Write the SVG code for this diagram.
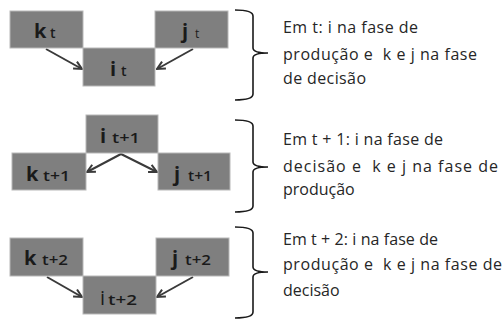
<svg xmlns="http://www.w3.org/2000/svg" width="504" height="321" viewBox="0 0 504 321">
<style>
.box{fill:#7f7f7f;stroke:#b8b8b8;stroke-width:1}
.big{font-family:"Open Sans","Liberation Sans",sans-serif;font-size:20px;font-weight:700;fill:#1a1a1a}
.sub{font-family:"Open Sans","Liberation Sans",sans-serif;font-size:14px;font-weight:600;fill:#1a1a1a}
.desc{font-family:"Open Sans","Liberation Sans",sans-serif;font-size:16px;fill:#262626;white-space:pre}
.arr{stroke:#3a3a3a;stroke-width:2;fill:none;marker-end:url(#ah)}
.br{stroke:#1a1a1a;stroke-width:1.6;fill:none}
</style>
<defs>
<marker id="ah" viewBox="0 0 10 10" refX="9" refY="5" markerWidth="5" markerHeight="5" orient="auto" markerUnits="strokeWidth">
<polyline points="1,1 9,5 1,9" fill="none" stroke="#3a3a3a" stroke-width="2"/>
</marker>
</defs>

<g id="connectors">
<line class="arr" x1="46" y1="49" x2="82" y2="69"/>
<line class="arr" x1="193" y1="49" x2="157" y2="69"/>
<line class="arr" x1="121" y1="154" x2="87" y2="172"/>
<line class="arr" x1="121" y1="154" x2="157" y2="172"/>
<line class="arr" x1="47" y1="277" x2="82" y2="297"/>
<line class="arr" x1="193" y1="277" x2="157" y2="297"/>
</g>

<g id="k_t">
<rect class="box" x="10" y="11" width="73" height="37"/>
<text class="big" x="34" y="38">k</text>
<text class="sub" x="50" y="38">t</text>
</g>
<g id="j_t">
<rect class="box" x="155" y="11" width="73" height="37"/>
<text class="big" x="182" y="38">j</text>
<text class="sub" x="195" y="38" style="font-size:12px;font-weight:400">t</text>
</g>
<g id="i_t">
<rect class="box" x="83" y="48" width="72" height="38"/>
<text class="big" x="110" y="76">i</text>
<text class="sub" x="121" y="76">t</text>
</g>

<g id="i_t1">
<rect class="box" x="86" y="115" width="72" height="38"/>
<text class="big" x="100" y="143">i</text>
<text class="sub" x="112" y="143" textLength="28" lengthAdjust="spacingAndGlyphs">t+1</text>
</g>
<g id="k_t1">
<rect class="box" x="12" y="153" width="74" height="37"/>
<text class="big" x="26" y="181">k</text>
<text class="sub" x="43" y="181" textLength="27" lengthAdjust="spacingAndGlyphs">t+1</text>
</g>
<g id="j_t1">
<rect class="box" x="158" y="153" width="72" height="37"/>
<text class="big" x="174" y="181">j</text>
<text class="sub" x="188" y="181" textLength="24" lengthAdjust="spacingAndGlyphs">t+1</text>
</g>

<g id="k_t2">
<rect class="box" x="10" y="238" width="73" height="38"/>
<text class="big" x="24" y="265">k</text>
<text class="sub" x="42" y="265" textLength="26" lengthAdjust="spacingAndGlyphs">t+2</text>
</g>
<g id="j_t2">
<rect class="box" x="156" y="238" width="73" height="38"/>
<text class="big" x="172" y="265">j</text>
<text class="sub" x="185" y="265" textLength="26" lengthAdjust="spacingAndGlyphs">t+2</text>
</g>
<g id="i_t2">
<rect class="box" x="83" y="276" width="73" height="38"/>
<text class="big" x="100" y="305" style="font-weight:400">i</text>
<text class="sub" x="108" y="305" textLength="29" lengthAdjust="spacingAndGlyphs">t+2</text>
</g>

<g id="brace1">
<path class="br" d="M235,10 Q253,10 253,16 V48 Q253,53 268,53 M268,53 Q253,53 253,58 V94 Q253,100 235,100"/>
<text class="desc" x="283" y="33" textLength="135" lengthAdjust="spacing">Em t: i na fase de</text>
<text class="desc" x="283" y="60" textLength="194" lengthAdjust="spacing">produção e  k e j na fase</text>
<text class="desc" x="283" y="84" textLength="83" lengthAdjust="spacing">de decisão</text>
</g>
<g id="brace2">
<path class="br" d="M235,120 Q253,120 253,126 V162 Q253,167 268,167 M268,167 Q253,167 253,172 V206 Q253,212 235,212"/>
<text class="desc" x="283" y="145" textLength="160" lengthAdjust="spacing">Em t + 1: i na fase de</text>
<text class="desc" x="283" y="172" textLength="215" lengthAdjust="spacing">decisão e  k e j na fase de</text>
<text class="desc" x="283" y="195">produção</text>
</g>
<g id="brace3">
<path class="br" d="M235,227 Q253,227 253,233 V267 Q253,272 268,272 M268,272 Q253,272 253,277 V312 Q253,318 235,318"/>
<text class="desc" x="283" y="245" textLength="155" lengthAdjust="spacing">Em t + 2: i na fase de</text>
<text class="desc" x="283" y="270" textLength="219" lengthAdjust="spacing">produção e  k e j na fase de</text>
<text class="desc" x="283" y="296">decisão</text>
</g>
</svg>
